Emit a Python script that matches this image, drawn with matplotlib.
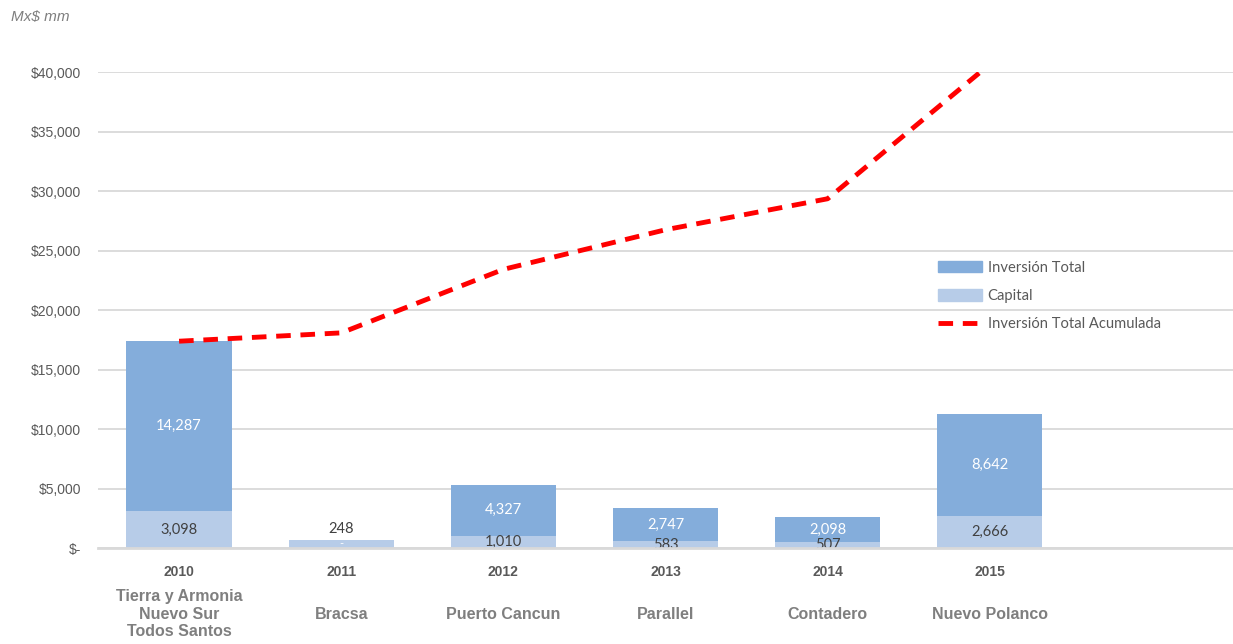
import numpy as np
import matplotlib
matplotlib.use('Agg')
import matplotlib.pyplot as plt
from matplotlib.patches import Patch
from matplotlib.lines import Line2D

years = ['2010', '2011', '2012', '2013', '2014', '2015']
projects = ['Tierra y Armonia\nNuevo Sur\nTodos Santos', 'Bracsa', 'Puerto Cancun',
            'Parallel', 'Contadero', 'Nuevo Polanco']
capital = [3098, 700, 1010, 583, 507, 2666]          # bar heights
inversion = [14287, 0, 4327, 2747, 2098, 8642]
capital_labels = ['3,098', '248', '1,010', '583', '507', '2,666']
inversion_labels = ['14,287', '-', '4,327', '2,747', '2,098', '8,642']

acumulada = np.cumsum(np.array(capital) + np.array(inversion))

c_inv = '#84ADDB'
c_cap = '#B7CCE8'
grey = '#595959'
arial = ['Liberation Sans', 'DejaVu Sans']
calibri = ['Lato', 'DejaVu Sans']

fig = plt.figure(figsize=(12.33, 6.44), dpi=100)
ax = fig.add_axes([0.0795, 0.149, 0.9205, 0.739])

x = np.arange(len(years))
w = 0.65
ax.bar(x, capital, w, color=c_cap, zorder=2)
ax.bar(x, inversion, w, bottom=capital, color=c_inv, zorder=2)
ax.plot(x, acumulada, color='#FF0000', lw=3.5, dashes=(3, 2), zorder=3)

# data labels
for i in range(len(x)):
    if inversion[i] > 0:
        ax.text(x[i], capital[i] + inversion[i] / 2, inversion_labels[i], ha='center', va='center',
                color='white', fontsize=10.5, family=calibri)
        ax.text(x[i], capital[i] / 2, capital_labels[i], ha='center', va='center',
                color='#404040', fontsize=10.5, family=calibri)
    else:
        ax.text(x[i], capital[i] / 2, inversion_labels[i], ha='center', va='center',
                color='white', fontsize=8, family=calibri)
        ax.text(x[i], capital[i] + 900, capital_labels[i], ha='center', va='center',
                color='#404040', fontsize=10.5, family=calibri)

ax.set_ylim(0, 40000)
ax.set_xlim(-0.5, 6.5)
ax.set_yticks(np.arange(0, 40001, 5000))
ax.set_yticklabels(['$-'] + ['${:,}'.format(v) for v in range(5000, 40001, 5000)], family=arial)
ax.set_xticks(x)
ax.set_xticklabels(years, fontweight='bold', family=arial)
ax.tick_params(axis='x', length=0, pad=12, labelsize=10, labelcolor=grey)
ax.tick_params(axis='y', length=0, pad=12, labelsize=10, labelcolor=grey)

for i in range(len(x)):
    ax.text(x[i], -0.139, projects[i], transform=ax.get_xaxis_transform(), ha='center', va='center',
            fontsize=11.5, fontweight='bold', color='#7F7F7F', linespacing=1.2, family=arial)

ax.grid(axis='y', color='#D9D9D9', lw=1.3, zorder=0)
for s in ['top', 'right', 'left']:
    ax.spines[s].set_visible(False)
ax.spines['bottom'].set_color('#D9D9D9')
ax.spines['bottom'].set_linewidth(2)
ax.spines['bottom'].set_zorder(4)

fig.text(0.009, 0.973, 'Mx$ mm', fontsize=11, style='italic', color='#7F7F7F', va='center',
         family=arial)

handles = [Patch(color=c_inv), Patch(color=c_cap),
           Line2D([0], [0], color='#FF0000', lw=3.5, dashes=(3, 2))]
leg = ax.legend(handles, ['Inversión Total', 'Capital', 'Inversión Total Acumulada'],
                loc='upper left', bbox_to_anchor=(0.728, 0.632), frameon=False,
                prop={'family': calibri, 'size': 10.6}, handlelength=3.0, handleheight=0.85,
                handletextpad=0.4, labelspacing=0.98)
for t in leg.get_texts():
    t.set_color(grey)

fig.savefig('out.png', dpi=100)
